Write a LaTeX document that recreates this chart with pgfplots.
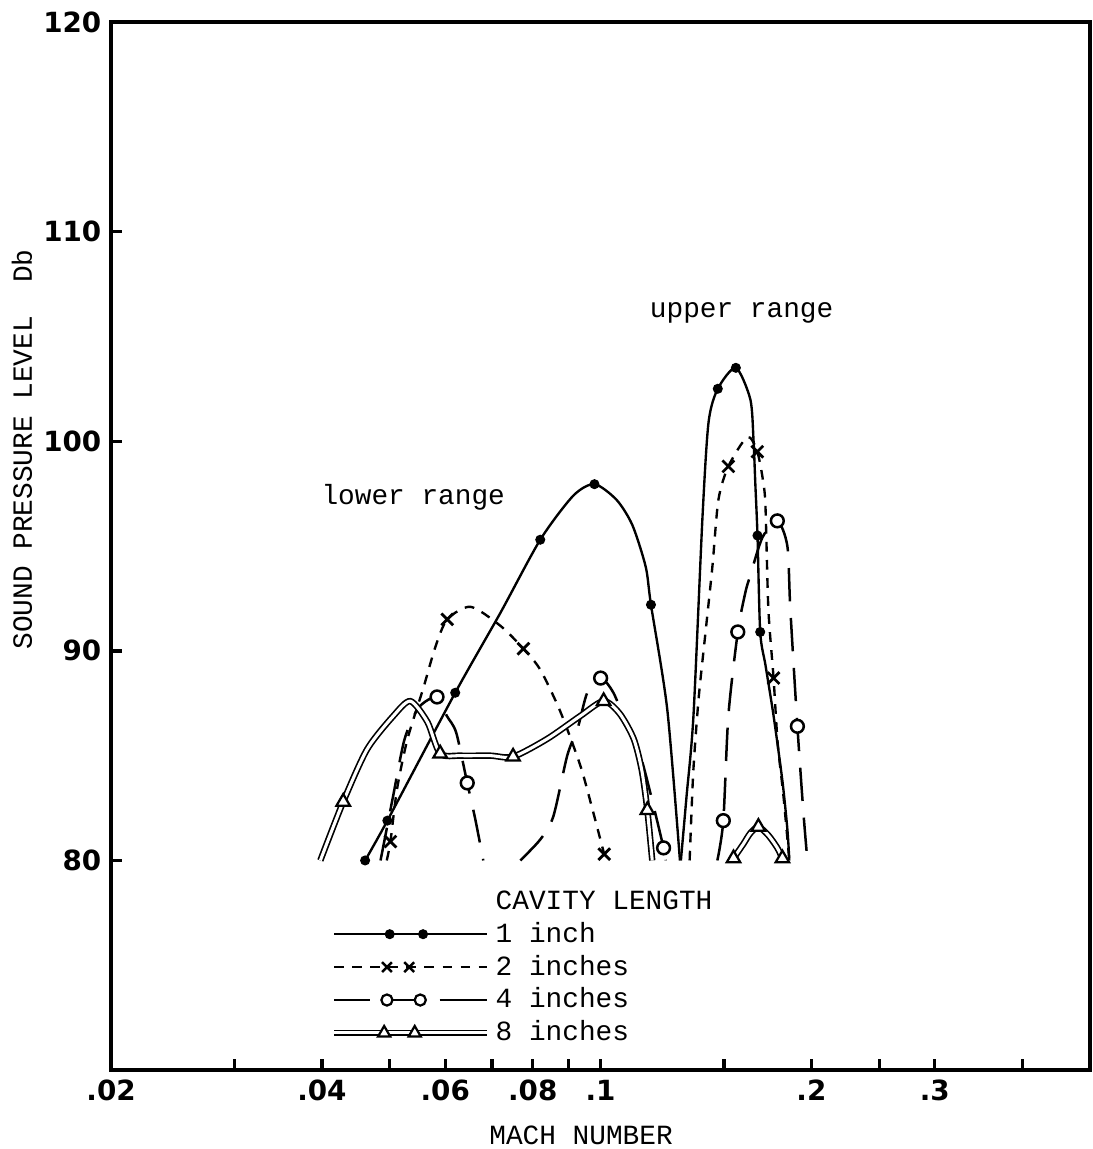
\documentclass[border=0pt]{standalone}
\usepackage{fontspec}
\setmainfont{Liberation Mono}
\setsansfont{DejaVu Sans}
\usepackage{pgfplots}
\pgfplotsset{compat=1.18}
\usetikzlibrary{calc}

\pgfplotsset{
  one/.style={black, line width=0.85pt, smooth, tension=0.45, forget plot},
  two/.style={black, line width=0.85pt, dash pattern=on 3.5pt off 3pt, smooth, tension=0.45, forget plot},
  four/.style={black, line width=0.9pt, dash pattern=on 12pt off 6pt, smooth, tension=0.45, forget plot},
  eight/.style={black, line width=0.6pt, double=white, double distance=1.1pt, smooth, tension=0.45, forget plot},
  pts/.style={only marks, black, forget plot},
}

\begin{document}
\begin{tikzpicture}
\begin{axis}[
  xmode=log, scale only axis, width=352.4pt, height=377.3pt,
  xmin=0.02, xmax=0.5, ymin=70, ymax=120,
  axis line style={line width=1.6pt},
  tick align=inside, xtick pos=left, ytick pos=left,
  major tick length=4pt, tick style={line width=1.2pt, black},
  xtick={0.02,0.03,0.04,0.05,0.06,0.07,0.08,0.09,0.1,0.15,0.2,0.25,0.3,0.4},
  xticklabels={.02,,.04,,.06,,.08,,.1,,.2,,.3,},
  xminorticks=false,
  ytick={80,90,100,110,120}, yticklabels={80,90,100,110,120},
  tick label style={font=\sffamily\bfseries},
  xlabel={MACH NUMBER}, ylabel={SOUND PRESSURE LEVEL\ \ Db},
  xlabel style={at={(axis description cs:0.48,-0.062)}, anchor=center},
  ylabel style={at={(axis description cs:-0.091,0.592)}, anchor=center},
  legend style={draw=none, fill=none, at={(0.224,0.177)}, anchor=north west,
    inner sep=0pt, row sep=-0.9pt, cells={anchor=west}},
]
% 1 inch
\addplot[one] coordinates {(0.0461,80) (0.0496,81.9) (0.062,88.0) (0.0719,91.8) (0.082,95.3) (0.0914,97.4) (0.098,97.95) (0.1054,97.2) (0.111,96.0) (0.116,94.0) (0.118,92.2) (0.1245,87.2) (0.1298,80)};
\addplot[one] coordinates {(0.1302,80) (0.1326,83) (0.1357,86.9) (0.1398,96.4) (0.1426,100.9) (0.147,102.5) (0.156,103.5) (0.1636,102) (0.1653,100.1) (0.1663,98) (0.1675,95.5) (0.169,90.9) (0.172,89.3) (0.1766,86.9) (0.1818,83.8) (0.1848,81.5) (0.186,80)};
\addplot[pts, mark=*, mark size=1.6pt] coordinates {(0.0461,80) (0.0496,81.9) (0.062,88.0) (0.082,95.3) (0.098,97.95) (0.118,92.2) (0.147,102.5) (0.156,103.5) (0.1675,95.5) (0.169,90.9)};
% 2 inches
\addplot[two] coordinates {(0.0495,80) (0.0501,80.9) (0.0512,83.4) (0.053,85.8) (0.0558,88.2) (0.0581,90.2) (0.0604,91.5) (0.0652,92.1) (0.0719,91.2) (0.0776,90.1) (0.082,89.1) (0.0876,87.1) (0.0936,84.5) (0.0976,82.3) (0.1012,80.3) (0.102,80)};
\addplot[two] coordinates {(0.134,80) (0.1356,84.2) (0.138,87.7) (0.1412,90.9) (0.1444,94) (0.1473,97.2) (0.1522,98.8) (0.162,100.2) (0.1674,99.5) (0.1708,98) (0.172,96.8) (0.1736,92) (0.1766,88.7) (0.179,85.6) (0.1824,83.1) (0.186,80)};
\addplot[pts, mark=x, mark size=3pt, mark options={line width=1pt}] coordinates {(0.0501,80.9) (0.0604,91.5) (0.0776,90.1) (0.1012,80.3) (0.1522,98.8) (0.1674,99.5) (0.1766,88.7)};
% 4 inches
\addplot[four] coordinates {(0.0485,80) (0.0505,83) (0.0525,85.8) (0.055,87.3) (0.0584,87.8) (0.0603,86.9) (0.0622,86.1) (0.0645,83.7) (0.0662,82) (0.068,80)};
\addplot[four] coordinates {(0.0768,80) (0.082,81) (0.0856,82.1) (0.0896,85) (0.0929,86.4) (0.0957,88) (0.1,88.7) (0.1043,88) (0.1092,86.4) (0.1128,85.5) (0.1166,83.8) (0.123,80.6) (0.1238,80)};
\addplot[four] coordinates {(0.1468,80) (0.1497,81.9) (0.1522,86.9) (0.157,90.9) (0.161,92.8) (0.1636,93.6) (0.1702,95.4) (0.1788,96.2) (0.1848,95) (0.1866,92) (0.191,86.4) (0.1948,82.3) (0.1974,80)};
\addplot[pts, mark=*, mark size=2.3pt, mark options={fill=white, line width=0.9pt}] coordinates {(0.0584,87.8) (0.0645,83.7) (0.1,88.7) (0.123,80.6) (0.1497,81.9) (0.157,90.9) (0.1788,96.2) (0.191,86.4)};
% 8 inches
\addplot[eight] coordinates {(0.0398,80) (0.0429,82.8) (0.0464,85.3) (0.0506,86.9) (0.0535,87.6) (0.0566,86.6) (0.059,85.1) (0.0631,85) (0.0696,85) (0.075,84.95) (0.0839,85.8) (0.0936,86.9) (0.101,87.6) (0.1065,87.0) (0.1115,85.8) (0.1145,84.3) (0.1166,82.4) (0.1185,80)};
\addplot[eight] coordinates {(0.1548,80.1) (0.16,80.8) (0.1636,81.3) (0.168,81.6) (0.1736,81.2) (0.1788,80.6) (0.1818,80.1)};
\addplot[pts, mark=triangle*, mark size=2.8pt, mark options={fill=white, line width=0.8pt}] coordinates {(0.0429,82.8) (0.059,85.1) (0.075,84.95) (0.101,87.6) (0.1166,82.4) (0.1548,80.1) (0.168,81.6) (0.1818,80.1)};

% legend
\addlegendimage{empty legend}
\addlegendentry{CAVITY LENGTH}
\addlegendimage{legend image code/.code={
  \draw[black, line width=0.8pt] (0pt,0pt) -- (55pt,0pt);
  \draw[black] plot[only marks, mark=*, mark size=1.6pt] coordinates {(20pt,0pt) (32pt,0pt)};}}
\addlegendentry{1 inch}
\addlegendimage{legend image code/.code={
  \draw[black, line width=0.8pt, dash pattern=on 3.5pt off 3pt] (0pt,0pt) -- (55pt,0pt);
  \draw[black, line width=0.9pt] plot[only marks, mark=x, mark size=2.5pt] coordinates {(19pt,0pt) (27pt,0pt)};}}
\addlegendentry{2 inches}
\addlegendimage{legend image code/.code={
  \draw[black, line width=0.9pt] (0pt,0pt) -- (13pt,0pt) (19pt,0pt) -- (31pt,0pt) (38pt,0pt) -- (55pt,0pt);
  \draw[black, line width=0.8pt] plot[only marks, mark=*, mark size=2pt, mark options={fill=white}] coordinates {(19pt,0pt) (31pt,0pt)};}}
\addlegendentry{4 inches}
\addlegendimage{legend image code/.code={
  \draw[black, line width=0.6pt, double=white, double distance=1.1pt] (0pt,0pt) -- (55pt,0pt);
  \draw[black, line width=0.8pt] plot[only marks, mark=triangle*, mark size=2.5pt, mark options={fill=white}] coordinates {(18pt,0pt) (29pt,0pt)};}}
\addlegendentry{8 inches}

\node at (axis cs:0.054,97.3) {lower range};
\node at (axis cs:0.159,106.1) {upper range};

\coordinate (bbsw) at (rel axis cs:0,0);
\coordinate (bbne) at (rel axis cs:1,1);
\end{axis}
\pgfresetboundingbox
\path[use as bounding box] ($(bbsw)+(-40pt,-28.4pt)$) rectangle ($(bbne)+(1pt,7.9pt)$);
\end{tikzpicture}
\end{document}
